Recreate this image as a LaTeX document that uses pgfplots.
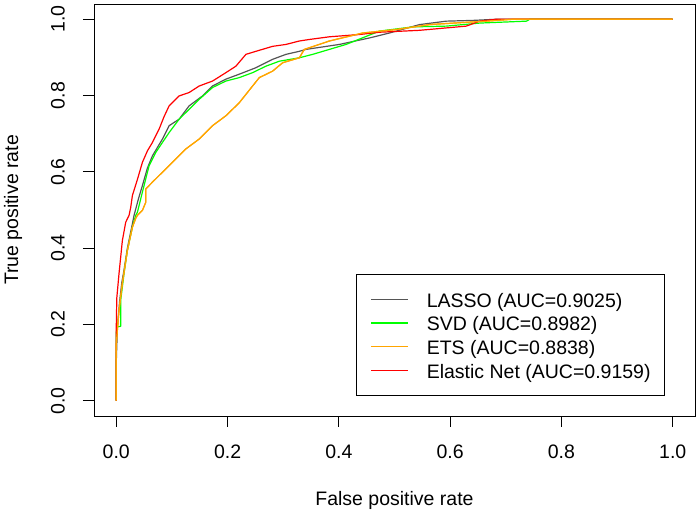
\documentclass[border=0pt]{standalone}
\usepackage{pgfplots}
\pgfplotsset{compat=1.18}
\usepackage{fontspec}
\setmainfont{Liberation Sans}
\definecolor{lassogray}{HTML}{555555}
\definecolor{svdgreen}{HTML}{00FF00}
\definecolor{etsorange}{HTML}{FFA500}
\definecolor{enred}{HTML}{FF0000}
\newcommand{\rfont}{\fontsize{19.5}{23.7}\selectfont}
\pgfplotstableread{
x y
0 0
0 0.148
0.005 0.238
0.011 0.308
0.020 0.394
0.029 0.455
0.035 0.478
0.038 0.486
0.047 0.499
0.053 0.520
0.053 0.555
0.065 0.573
0.083 0.599
0.107 0.634
0.125 0.660
0.149 0.686
0.173 0.721
0.197 0.747
0.221 0.781
0.245 0.825
0.257 0.847
0.281 0.864
0.299 0.886
0.329 0.899
0.338 0.921
0.383 0.943
0.443 0.964
0.503 0.973
0.563 0.986
0.629 0.992
0.665 0.995
0.713 1.0
1 1
}\etsdata
\begin{document}
\begin{tikzpicture}
\path[use as bounding box] (-94pt,-97pt) rectangle (605pt,416pt);
\begin{axis}[
  at={(0pt,0pt)}, anchor=south west,
  scale only axis, width=601pt, height=412pt,
  xmin=-0.04, xmax=1.04, ymin=-0.04, ymax=1.04,
  xtick={0,0.2,0.4,0.6,0.8,1.0},
  ytick={0,0.2,0.4,0.6,0.8,1.0},
  /pgf/number format/assume math mode=true,
  /pgf/number format/.cd, fixed, fixed zerofill, precision=1, /pgfplots/.cd,
  tick pos=left, tick align=outside, major tick length=11pt,
  tick style={black, line width=0.8pt},
  axis line style={line width=0.8pt},
  every tick label/.append style={font=\rfont},
  xticklabel style={anchor=center, yshift=-25pt},
  yticklabel style={anchor=center, xshift=-25pt, rotate=90},
  xlabel={False positive rate}, ylabel={True positive rate},
  xlabel style={font=\rfont, at={(axis description cs:0.5,-0.2039)}, anchor=center},
  ylabel style={font=\rfont, at={(axis description cs:-0.1348,0.5)}, anchor=center},
  legend cell align=left,
  legend image code/.code={\draw[#1] (0pt,0pt) -- (37pt,0pt);},
  legend style={at={(axis description cs:0.9501,0.0485)}, anchor=south east,
    draw=black, line width=0.8pt, font=\rfont, inner xsep=14pt, inner ysep=16pt,
    row sep=5.2pt, column sep=18pt,
    nodes={inner sep=0pt, text height=17pt, text depth=1.5pt}},
]
\addplot[draw=lassogray, line width=1.2pt, line join=round] coordinates {
(0,0)(0,0.10)(0.002,0.19)(0.006,0.26)(0.010,0.31)(0.014,0.343)(0.020,0.40)(0.029,0.464)(0.032,0.486)(0.040,0.53)(0.047,0.564)(0.056,0.61)(0.065,0.642)(0.083,0.686)(0.095,0.721)(0.113,0.738)(0.131,0.773)(0.155,0.799)(0.173,0.825)(0.197,0.843)(0.221,0.856)(0.251,0.873)(0.281,0.895)(0.305,0.908)(0.329,0.916)(0.341,0.921)(0.401,0.934)(0.455,0.951)(0.491,0.964)(0.545,0.986)(0.593,0.995)(0.641,0.997)(0.683,1.0)(1,1)};
\addlegendentry{LASSO (AUC=0.9025)}
\addplot[draw=svdgreen, line width=1.2pt, line join=round] coordinates {
(0,0)(0,0.18)(0.002,0.194)(0.008,0.195)(0.008,0.264)(0.014,0.334)(0.020,0.394)(0.029,0.455)(0.035,0.486)(0.038,0.494)(0.047,0.547)(0.059,0.616)(0.071,0.651)(0.083,0.677)(0.095,0.703)(0.113,0.738)(0.131,0.764)(0.149,0.790)(0.173,0.821)(0.197,0.838)(0.221,0.847)(0.245,0.860)(0.269,0.877)(0.293,0.890)(0.329,0.899)(0.353,0.908)(0.413,0.934)(0.473,0.969)(0.533,0.980)(0.593,0.982)(0.653,0.990)(0.737,0.995)(0.743,1.0)(1,1)};
\addlegendentry{SVD (AUC=0.8982)}
\addplot[draw=etsorange, line width=1.2pt, line join=round] table[x=x,y=y] {\etsdata};
\addlegendentry{ETS (AUC=0.8838)}
\addplot[draw=enred, line width=1.2pt, line join=round] coordinates {
(0,0)(0,0.19)(0.001,0.27)(0.005,0.334)(0.011,0.42)(0.017,0.468)(0.023,0.486)(0.026,0.507)(0.029,0.538)(0.038,0.58)(0.047,0.625)(0.056,0.655)(0.065,0.677)(0.077,0.712)(0.086,0.745)(0.095,0.773)(0.113,0.799)(0.131,0.808)(0.149,0.825)(0.173,0.838)(0.197,0.860)(0.215,0.877)(0.233,0.908)(0.251,0.916)(0.281,0.929)(0.305,0.934)(0.329,0.943)(0.347,0.947)(0.383,0.954)(0.437,0.960)(0.473,0.966)(0.545,0.971)(0.629,0.982)(0.653,0.995)(0.683,1.0)(1,1)};
\addlegendentry{Elastic Net (AUC=0.9159)}
\addplot[draw=etsorange, line width=1.2pt, line join=round, forget plot] table[x=x,y=y] {\etsdata};
\end{axis}
\end{tikzpicture}
\end{document}
